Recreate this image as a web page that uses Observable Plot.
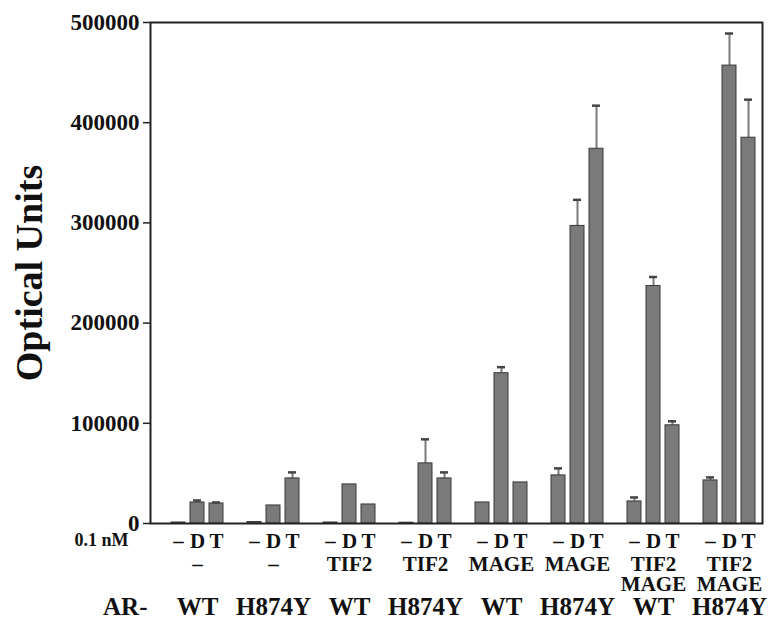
<!DOCTYPE html>
<html>
<head>
<meta charset="utf-8">
<script src="https://cdn.jsdelivr.net/npm/d3@7"></script>
<script src="https://cdn.jsdelivr.net/npm/@observablehq/plot@0.6"></script>
<style>
  body { margin: 0; background: #fff; }
</style>
</head>
<body>
<div id="chart"></div>
<script>
// ---- data ----
const arLabels = ["WT", "H874Y", "WT", "H874Y", "WT", "H874Y", "WT", "H874Y"];
const coactivators = ["–", "–", "TIF2", "TIF2", "MAGE", "MAGE", "TIF2\nMAGE", "TIF2\nMAGE"];
const treatments = ["–", "D", "T"];
const valuesVehicle = [1000, 1500, 1000, 800, 21000, 48000, 22000, 43000];
const valuesD = [21000, 18000, 39000, 60000, 150000, 297000, 237000, 457000];
const valuesT = [20000, 45000, 19000, 45000, 41000, 374000, 98000, 385000];
const errVehicle = [null, null, null, null, null, 55000, 26000, 46000];
const errD = [23000, null, null, 84000, 156000, 323000, 246000, 489000];
const errT = [21000, 51000, null, 51000, null, 417000, 102000, 423000];
const yTicks = [0, 100000, 200000, 300000, 400000, 500000];
const concLabel = "0.1 nM";
const arPrefix = "AR-";
const yLabel = "Optical Units";

// ---- build tables ----
const series = [valuesVehicle, valuesD, valuesT];
const errs = [errVehicle, errD, errT];
const slotKey = (g, t) => `${g}:${t}`;
const domain = [];
arLabels.forEach((_, i) => {
  treatments.forEach((_, j) => domain.push(slotKey(i, j)));
  if (i < arLabels.length - 1) domain.push(`gap${i}`);
});
const rows = [];
arLabels.forEach((_, i) => {
  treatments.forEach((t, j) => {
    rows.push({ key: slotKey(i, j), treatment: t, value: series[j][i], err: errs[j][i] });
  });
});
const withErr = rows.filter(d => d.err != null);
const groups = arLabels.map((ar, i) => ({ key: slotKey(i, 1), ar, cof: coactivators[i] }));

const serif = "'Liberation Serif', 'DejaVu Serif', serif";

const chart = Plot.plot({
  width: 780,
  height: 620,
  marginLeft: 150,
  marginRight: 18,
  marginTop: 22,
  marginBottom: 97,
  style: { fontFamily: serif, fontWeight: "bold", color: "#111", background: "#fff" },
  x: { type: "band", domain, paddingInner: 0.27, paddingOuter: 0.31, align: 0.75, axis: null },
  y: { domain: [0, 500000] },
  marks: [
    Plot.ruleX(withErr, { x: "key", y1: "value", y2: "err", stroke: "#7a7a7a", strokeWidth: 2 }),
    Plot.barY(rows, { x: "key", y: "value", fill: "#7a7a7a", stroke: "#383838", strokeWidth: 1 }),
    Plot.tickY(withErr, { x: "key", y: "err", stroke: "#444", strokeWidth: 2.5, insetLeft: 3, insetRight: 3 }),
    Plot.frame({ stroke: "#222", strokeWidth: 2 }),
    Plot.axisY({
      ticks: yTicks, tickFormat: d3.format("d"), tickSize: 7, tickPadding: 4,
      fontSize: 23, fontWeight: "bold", label: null, stroke: "#222", strokeWidth: 1.5
    }),
    Plot.text([yLabel], { frameAnchor: "left", rotate: -90, dx: -121, textAnchor: "middle", lineAnchor: "middle", fontSize: 38, fontWeight: "bold", fill: "#111" }),
    Plot.text([concLabel], { frameAnchor: "bottom-left", dx: -22, dy: 22, textAnchor: "end", lineAnchor: "bottom", fontSize: 18, fontWeight: "bold", fill: "#111" }),
    Plot.text(rows, { x: "key", text: "treatment", frameAnchor: "bottom", dy: 24, lineAnchor: "bottom", fontSize: 21, fontWeight: "bold", fill: "#111" }),
    Plot.text(groups, { x: "key", text: "cof", frameAnchor: "bottom", dy: 33, lineAnchor: "top", lineHeight: 0.95, fontSize: 21, fontWeight: "bold", fill: "#111" }),
    Plot.text(groups, { x: "key", text: "ar", frameAnchor: "bottom", dy: 91, lineAnchor: "bottom", fontSize: 25, fontWeight: "bold", fill: "#111" }),
    Plot.text([arPrefix], { frameAnchor: "bottom-left", dx: -3, dy: 91, textAnchor: "end", lineAnchor: "bottom", fontSize: 25, fontWeight: "bold", fill: "#111" })
  ]
});
document.getElementById("chart").appendChild(chart);
</script>
</body>
</html>
